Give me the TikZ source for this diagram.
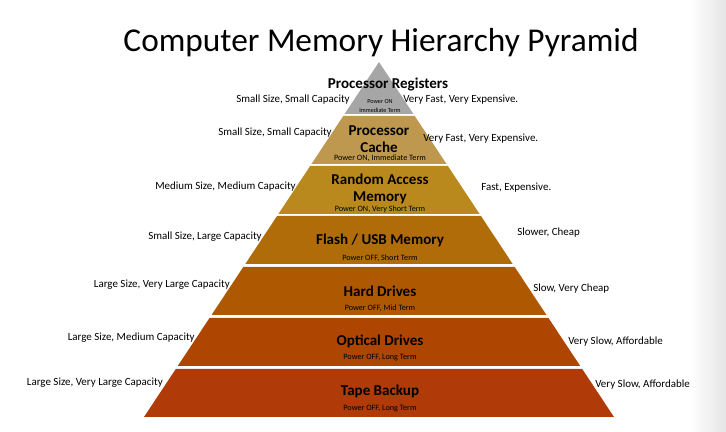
\documentclass[tikz,border=0pt]{standalone}
\usepackage{fontspec}
\setmainfont{Carlito}
\usepackage{xcolor}
\usetikzlibrary{positioning, calc}
\definecolor{regcol}{RGB}{166,166,166}
\definecolor{cachecol}{RGB}{190,152,78}
\definecolor{ramcol}{RGB}{186,137,30}
\definecolor{flashcol}{RGB}{177,108,10}
\definecolor{hddcol}{RGB}{175,88,2}
\definecolor{optcol}{RGB}{174,70,2}
\definecolor{tapecol}{RGB}{176,58,8}
\tikzset{
    pagetitle/.style={font=\fontsize{23.7}{26}\selectfont, inner sep=0pt},
    layertitle/.style={font=\fontsize{10.7}{11.8}\selectfont\bfseries, align=center, inner sep=0pt},
    layernote/.style={font=\fontsize{5.8}{6.5}\selectfont, inner sep=0pt},
    tinynote/.style={font=\fontsize{4.4}{6.4}\selectfont, align=center, inner sep=0pt},
    leftnote/.style={font=\fontsize{7.8}{9}\selectfont, anchor=east, inner sep=0pt},
    rightnote/.style={font=\fontsize{7.8}{9}\selectfont, anchor=west, inner sep=0pt},
}

\begin{document}
\begin{tikzpicture}[x=0.025cm, y=-0.025cm]
\useasboundingbox (0,0) rectangle (726,432);
\shade[left color=white, right color=black!10, draw=none] (690,0) rectangle (726,432);

% === TITLE ===
\node[pagetitle] (title) at (381,43) {Computer Memory Hierarchy Pyramid};

% === PYRAMID BANDS (top y, bottom y, colour) ===
\foreach \ya/\yb/\col in {62/114/regcol, 116/164/cachecol, 166/214/ramcol,
    216/264/flashcol, 267/315/hddcol, 318/366/optcol, 369/417/tapecol}{
  \fill[\col] ({379-0.662*(\ya-62)},\ya) -- ({379+0.662*(\ya-62)},\ya)
     -- ({379+0.662*(\yb-62)},\yb) -- ({379-0.662*(\yb-62)},\yb) -- cycle;
}

% === LAYER TITLES ===
\node[layertitle] (reg) at (388,84) {Processor Registers};
\node[tinynote] (regnote) at (380,106) {Power ON\\Immediate Term};

\node[layertitle] (cache) at (379,139) {Processor\\Cache};
\node[layernote] (cachenote) at (380,158) {Power ON, Immediate Term};

\node[layertitle] (ram) at (380,189) {Random Access\\Memory};
\node[layernote] (ramnote) at (380,209) {Power ON, Very Short Term};

\node[layertitle] (flash) at (380,240) {Flash / USB Memory};
\node[layernote] (flashnote) at (380,258) {Power OFF, Short Term};

\node[layertitle] (hdd) at (380,291) {Hard Drives};
\node[layernote] (hddnote) at (380,308) {Power OFF, Mid Term};

\node[layertitle] (opt) at (380,341) {Optical Drives};
\node[layernote] (optnote) at (380,358) {Power OFF, Long Term};

\node[layertitle] (tape) at (380,391) {Tape Backup};
\node[layernote] (tapenote) at (380,409) {Power OFF, Long Term};

% === SIZE / CAPACITY (left) ===
\node[leftnote] (regsize) at (350,100) {Small Size, Small Capacity};
\node[leftnote] (cachesize) at (332,133) {Small Size, Small Capacity};
\node[leftnote] (ramsize) at (296,187) {Medium Size, Medium Capacity};
\node[leftnote] (flashsize) at (262,237) {Small Size, Large Capacity};
\node[leftnote] (hddsize) at (230,285) {Large Size, Very Large Capacity};
\node[leftnote] (optsize) at (195,338) {Large Size, Medium Capacity};
\node[leftnote] (tapesize) at (163,383) {Large Size, Very Large Capacity};

% === SPEED / COST (right) ===
\node[rightnote] (regspeed) at (403,100) {Very Fast, Very Expensive.};
\node[rightnote] (cachespeed) at (423,139) {Very Fast, Very Expensive.};
\node[rightnote] (ramspeed) at (481,188) {Fast, Expensive.};
\node[rightnote] (flashspeed) at (517,233) {Slower, Cheap};
\node[rightnote] (hddspeed) at (533,289) {Slow, Very Cheap};
\node[rightnote] (optspeed) at (568,342) {Very Slow, Affordable};
\node[rightnote] (tapespeed) at (595,385) {Very Slow, Affordable};

\end{tikzpicture}
\end{document}
